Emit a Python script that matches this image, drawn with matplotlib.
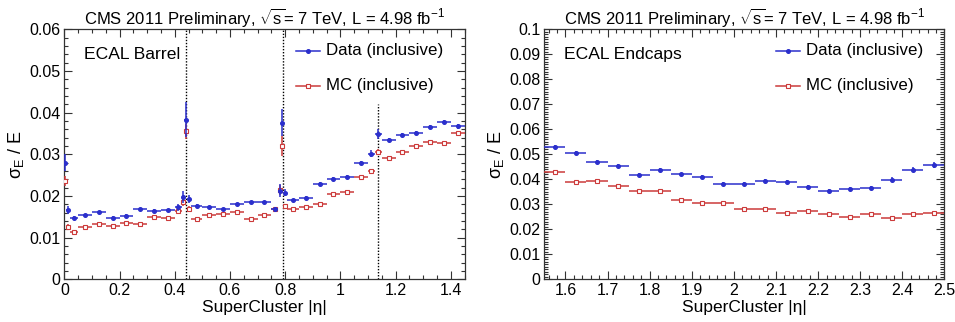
import numpy as np
import matplotlib
matplotlib.use("Agg")
import matplotlib.pyplot as plt
from matplotlib.ticker import MultipleLocator

plt.rcParams['font.family'] = ['Liberation Sans', 'DejaVu Sans']
plt.rcParams['mathtext.fontset'] = 'custom'
plt.rcParams['mathtext.rm'] = 'Liberation Sans'
plt.rcParams['mathtext.it'] = 'Liberation Sans:italic'

# barrel bins (|eta| edges) and values
barrel_edges = [0, 0.005, 0.02, 0.05, 0.1, 0.15, 0.2, 0.25, 0.3, 0.35, 0.4, 0.425,
                0.435, 0.445, 0.46, 0.5, 0.55, 0.6, 0.65, 0.7, 0.75, 0.775, 0.785,
                0.795, 0.805, 0.85, 0.9, 0.95, 1.0, 1.05, 1.1, 1.125, 1.15, 1.2,
                1.25, 1.3, 1.35, 1.4, 1.45]
barrel_data = [0.0280, 0.0166, 0.0148, 0.0154, 0.0161, 0.0148, 0.0153, 0.0169, 0.0165,
               0.0166, 0.0173, 0.0198, 0.0383, 0.0193, 0.0176, 0.0173, 0.0169, 0.0181,
               0.0185, 0.0186, 0.0168, 0.0213, 0.0376, 0.0208, 0.0190, 0.0195, 0.0228,
               0.0240, 0.0246, 0.0280, 0.0302, 0.0350, 0.0334, 0.0346, 0.0352, 0.0365,
               0.0377, 0.0368]
barrel_data_err = [0.0020, 0.0010, 0.0004, 0.0003, 0.0003, 0.0003, 0.0003, 0.0003, 0.0003,
                   0.0003, 0.0008, 0.0015, 0.0042, 0.0010, 0.0004, 0.0003, 0.0003, 0.0003,
                   0.0003, 0.0003, 0.0006, 0.0015, 0.0033, 0.0008, 0.0004, 0.0004, 0.0005,
                   0.0005, 0.0005, 0.0005, 0.0008, 0.0012, 0.0005, 0.0005, 0.0005, 0.0005,
                   0.0005, 0.0006]
barrel_mc = [0.0236, 0.0126, 0.0113, 0.0126, 0.0133, 0.0129, 0.0134, 0.0132, 0.0150,
             0.0148, 0.0163, 0.0186, 0.0356, 0.0170, 0.0145, 0.0154, 0.0158, 0.0161,
             0.0146, 0.0154, 0.0168, 0.0214, 0.0320, 0.0176, 0.0170, 0.0173, 0.0182,
             0.0205, 0.0210, 0.0246, 0.0260, 0.0306, 0.0292, 0.0306, 0.0321, 0.0329,
             0.0328, 0.0352]
barrel_mc_err = [0.0012, 0.0006, 0.0003, 0.0002, 0.0002, 0.0002, 0.0002, 0.0002, 0.0002,
                 0.0002, 0.0004, 0.0010, 0.0018, 0.0006, 0.0003, 0.0002, 0.0002, 0.0002,
                 0.0002, 0.0002, 0.0004, 0.0012, 0.0025, 0.0006, 0.0003, 0.0003, 0.0003,
                 0.0003, 0.0003, 0.0003, 0.0004, 0.0006, 0.0003, 0.0003, 0.0003, 0.0003,
                 0.0003, 0.0004]
cracks = [0.442, 0.791, 1.138]
crack_top = [0.06, 0.06, 0.042]

# endcap bins
endcap_edges = [1.55, 1.6, 1.65, 1.7, 1.75, 1.8, 1.85, 1.9, 1.95, 2.0, 2.05, 2.1,
                2.15, 2.2, 2.25, 2.3, 2.35, 2.4, 2.45, 2.5]
endcap_data = [0.0530, 0.0505, 0.0469, 0.0455, 0.0419, 0.0438, 0.0421, 0.0410, 0.0382,
               0.0382, 0.0395, 0.0390, 0.0370, 0.0353, 0.0360, 0.0364, 0.0399, 0.0438,
               0.0458]
endcap_data_err = [0.0007, 0.0007, 0.0007, 0.0006, 0.0006, 0.0006, 0.0006, 0.0006, 0.0006,
                   0.0006, 0.0006, 0.0006, 0.0007, 0.0007, 0.0008, 0.0008, 0.0009, 0.0010,
                   0.0012]
endcap_mc = [0.0429, 0.0390, 0.0395, 0.0374, 0.0353, 0.0353, 0.0317, 0.0304, 0.0304,
             0.0282, 0.0280, 0.0266, 0.0274, 0.0261, 0.0249, 0.0260, 0.0246, 0.0262,
             0.0264]
endcap_mc_err = [0.0004, 0.0004, 0.0004, 0.0003, 0.0003, 0.0003, 0.0003, 0.0003, 0.0003,
                 0.0003, 0.0004, 0.0004, 0.0004, 0.0004, 0.0004, 0.0005, 0.0005, 0.0006,
                 0.0008]

blue = '#2b2fcc'
red = '#cc3a3a'
title = r'CMS 2011 Preliminary, $\sqrt{\mathrm{s}}$= 7 TeV, L = 4.98 fb$^{\mathrm{-1}}$'

fig = plt.figure(figsize=(9.55, 3.22), dpi=100)
ax1 = fig.add_axes([0.0674, 0.1326, 0.419, 0.776])
ax2 = fig.add_axes([0.570, 0.1326, 0.419, 0.776])


def draw(ax, edges, data, derr, mc, mcerr):
    edges = np.array(edges)
    xc = (edges[:-1] + edges[1:]) / 2
    xw = (edges[1:] - edges[:-1]) / 2
    ax.errorbar(xc, mc, xerr=xw, yerr=mcerr, fmt='s', ms=3.2, mfc='white', mec=red,
                mew=0.8, color=red, elinewidth=1.1, capsize=0, zorder=3)
    ax.errorbar(xc, data, xerr=xw, yerr=derr, fmt='o', ms=2.6, color=blue,
                elinewidth=1.1, capsize=0, zorder=4)


draw(ax1, barrel_edges, barrel_data, barrel_data_err, barrel_mc, barrel_mc_err)
draw(ax2, endcap_edges, endcap_data, endcap_data_err, endcap_mc, endcap_mc_err)

for c, top in zip(cracks, crack_top):
    ax1.plot([c, c], [0, top], color='black', lw=1, ls=(0, (1, 1.2)), zorder=2)

ax1.set_xlim(0, 1.45)
ax1.set_ylim(0, 0.06)
ax1.set_xticks(np.arange(0, 1.45, 0.2))
ax1.set_xticklabels(['0', '0.2', '0.4', '0.6', '0.8', '1', '1.2', '1.4'])
ax1.xaxis.set_minor_locator(MultipleLocator(0.05))
ax1.set_yticks(np.arange(0, 0.0601, 0.01))
ax1.set_yticklabels(['0', '0.01', '0.02', '0.03', '0.04', '0.05', '0.06'])
ax1.yaxis.set_minor_locator(MultipleLocator(0.002))

ax2.set_xlim(1.55, 2.5)
ax2.set_ylim(0, 0.1)
ax2.set_xticks(np.arange(1.6, 2.51, 0.1))
ax2.set_xticklabels(['1.6', '1.7', '1.8', '1.9', '2', '2.1', '2.2', '2.3', '2.4', '2.5'])
ax2.xaxis.set_minor_locator(MultipleLocator(0.02))
ax2.set_yticks(np.arange(0, 0.1001, 0.01))
ax2.set_yticklabels(['0', '0.01', '0.02', '0.03', '0.04', '0.05', '0.06', '0.07',
                     '0.08', '0.09', '0.1'])
ax2.yaxis.set_minor_locator(MultipleLocator(0.001))

for ax, label in [(ax1, 'ECAL Barrel'), (ax2, 'ECAL Endcaps')]:
    ax.tick_params(which='both', direction='in', top=True, right=True,
                   labelsize=11.5, pad=3, color='#333333')
    ax.tick_params(which='major', length=6, width=0.8)
    ax.tick_params(which='minor', length=3, width=0.8)
    for s in ax.spines.values():
        s.set_linewidth(0.9)
        s.set_color('#333333')
    ax.set_title(title, fontsize=12, pad=4)
    ax.set_xlabel('SuperCluster |η|', fontsize=12.5, labelpad=1)
    ax.set_ylabel(r'$\mathrm{σ}_{\mathrm{E}}$ / E', fontsize=13, labelpad=2)
    ax.text(0.048, 0.90, label, transform=ax.transAxes, fontsize=12.6,
            va='center', ha='left')
    # legend
    ax.plot([0.58, 0.64], [0.915, 0.915], color=blue, lw=1.1, transform=ax.transAxes)
    ax.plot([0.61], [0.915], 'o', ms=2.6, color=blue, transform=ax.transAxes)
    ax.text(0.655, 0.915, 'Data (inclusive)', transform=ax.transAxes, fontsize=12.2,
            va='center', ha='left')
    ax.plot([0.58, 0.64], [0.775, 0.775], color=red, lw=1.1, transform=ax.transAxes)
    ax.plot([0.61], [0.775], 's', ms=3.2, mfc='white', mec=red, mew=0.8,
            transform=ax.transAxes)
    ax.text(0.655, 0.775, 'MC (inclusive)', transform=ax.transAxes, fontsize=12.2,
            va='center', ha='left')

fig.savefig('out.png', dpi=100)
